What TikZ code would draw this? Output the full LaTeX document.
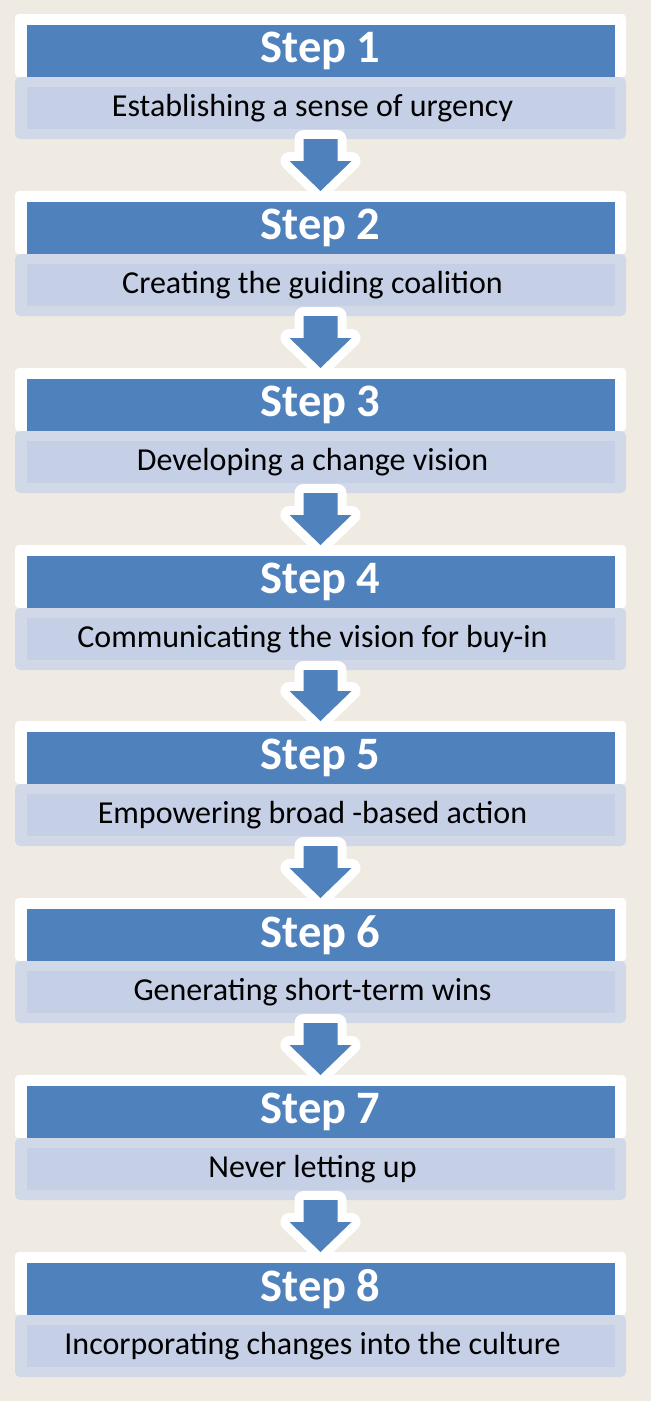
\documentclass[tikz,border=0pt]{standalone}
\usepackage{fontspec}
\setmainfont{Carlito}
\usetikzlibrary{calc}

\definecolor{paper}{RGB}{239,235,226}
\definecolor{stepblue}{RGB}{79,129,189}
\definecolor{barlight}{RGB}{209,217,233}
\definecolor{barfill}{RGB}{197,208,230}

% block arrow from the bar of one step to the frame of the next
\newcommand{\steparrow}[2]{%
    \fill[flowarrow] ($(#1.south)+(-17,0)$) -- ($(#2.north)+(-17,-30)$) -- ($(#2.north)+(-31,-30)$) -- (#2.north)
        -- ($(#2.north)+(31,-30)$) -- ($(#2.north)+(17,-30)$) -- ($(#1.south)+(17,0)$) -- cycle;}

\begin{document}
\begin{tikzpicture}[
        x=1pt, y=-1pt,
        box/.style={inner sep=0pt, outer sep=0pt, align=center},
        frame/.style={box, fill=white, rounded corners=4pt, minimum width=611pt, minimum height=63pt},
        head/.style={box, fill=stepblue, text=white, minimum width=588pt, minimum height=52pt, font=\fontsize{46.5}{52}\selectfont\bfseries},
        bar/.style={box, fill=barlight, rounded corners=5pt, minimum width=611pt, minimum height=62pt},
        task/.style={box, fill=barfill, minimum width=588pt, minimum height=42pt},
        tasktext/.style={box, font=\fontsize{32}{36}\selectfont, xshift=-8pt},
        flowarrow/.style={fill=stepblue, line join=round, preaction={draw=white, line width=18pt, line join=round}}
    ]
        \fill[paper] (0,0) rectangle (651,1401);

        \node[frame] (frame1) at (320.5, 45.5) {};
        \node[head] (head1) at (320.5, 51) {Step 1};
        \node[bar] (bar1) at (320.5, 108) {};
        \node[task] (task1) at (bar1) {};
        \node[tasktext] (text1) at (task1) {Establishing a sense of urgency};

        \node[frame] (frame2) at (320.5, 222.5) {};
        \node[head] (head2) at (320.5, 228) {Step 2};
        \node[bar] (bar2) at (320.5, 285) {};
        \node[task] (task2) at (bar2) {};
        \node[tasktext] (text2) at (task2) {Creating the guiding coalition};

        \node[frame] (frame3) at (320.5, 399.5) {};
        \node[head] (head3) at (320.5, 405) {Step 3};
        \node[bar] (bar3) at (320.5, 462) {};
        \node[task] (task3) at (bar3) {};
        \node[tasktext] (text3) at (task3) {Developing a change vision};

        \node[frame] (frame4) at (320.5, 576.5) {};
        \node[head] (head4) at (320.5, 582) {Step 4};
        \node[bar] (bar4) at (320.5, 639) {};
        \node[task] (task4) at (bar4) {};
        \node[tasktext] (text4) at (task4) {Communicating the vision for buy-in};

        \node[frame] (frame5) at (320.5, 752.5) {};
        \node[head] (head5) at (320.5, 758) {Step 5};
        \node[bar] (bar5) at (320.5, 815) {};
        \node[task] (task5) at (bar5) {};
        \node[tasktext] (text5) at (task5) {Empowering broad -based action};

        \node[frame] (frame6) at (320.5, 929.5) {};
        \node[head] (head6) at (320.5, 935) {Step 6};
        \node[bar] (bar6) at (320.5, 992) {};
        \node[task] (task6) at (bar6) {};
        \node[tasktext] (text6) at (task6) {Generating short-term wins};

        \node[frame] (frame7) at (320.5, 1106.5) {};
        \node[head] (head7) at (320.5, 1112) {Step 7};
        \node[bar] (bar7) at (320.5, 1169) {};
        \node[task] (task7) at (bar7) {};
        \node[tasktext] (text7) at (task7) {Never letting up};

        \node[frame] (frame8) at (320.5, 1283.5) {};
        \node[head] (head8) at (320.5, 1289) {Step 8};
        \node[bar] (bar8) at (320.5, 1346) {};
        \node[task] (task8) at (bar8) {};
        \node[tasktext] (text8) at (task8) {Incorporating changes into the culture};

        \steparrow{bar1}{frame2}
        \steparrow{bar2}{frame3}
        \steparrow{bar3}{frame4}
        \steparrow{bar4}{frame5}
        \steparrow{bar5}{frame6}
        \steparrow{bar6}{frame7}
        \steparrow{bar7}{frame8}
    \end{tikzpicture}
\end{document}
